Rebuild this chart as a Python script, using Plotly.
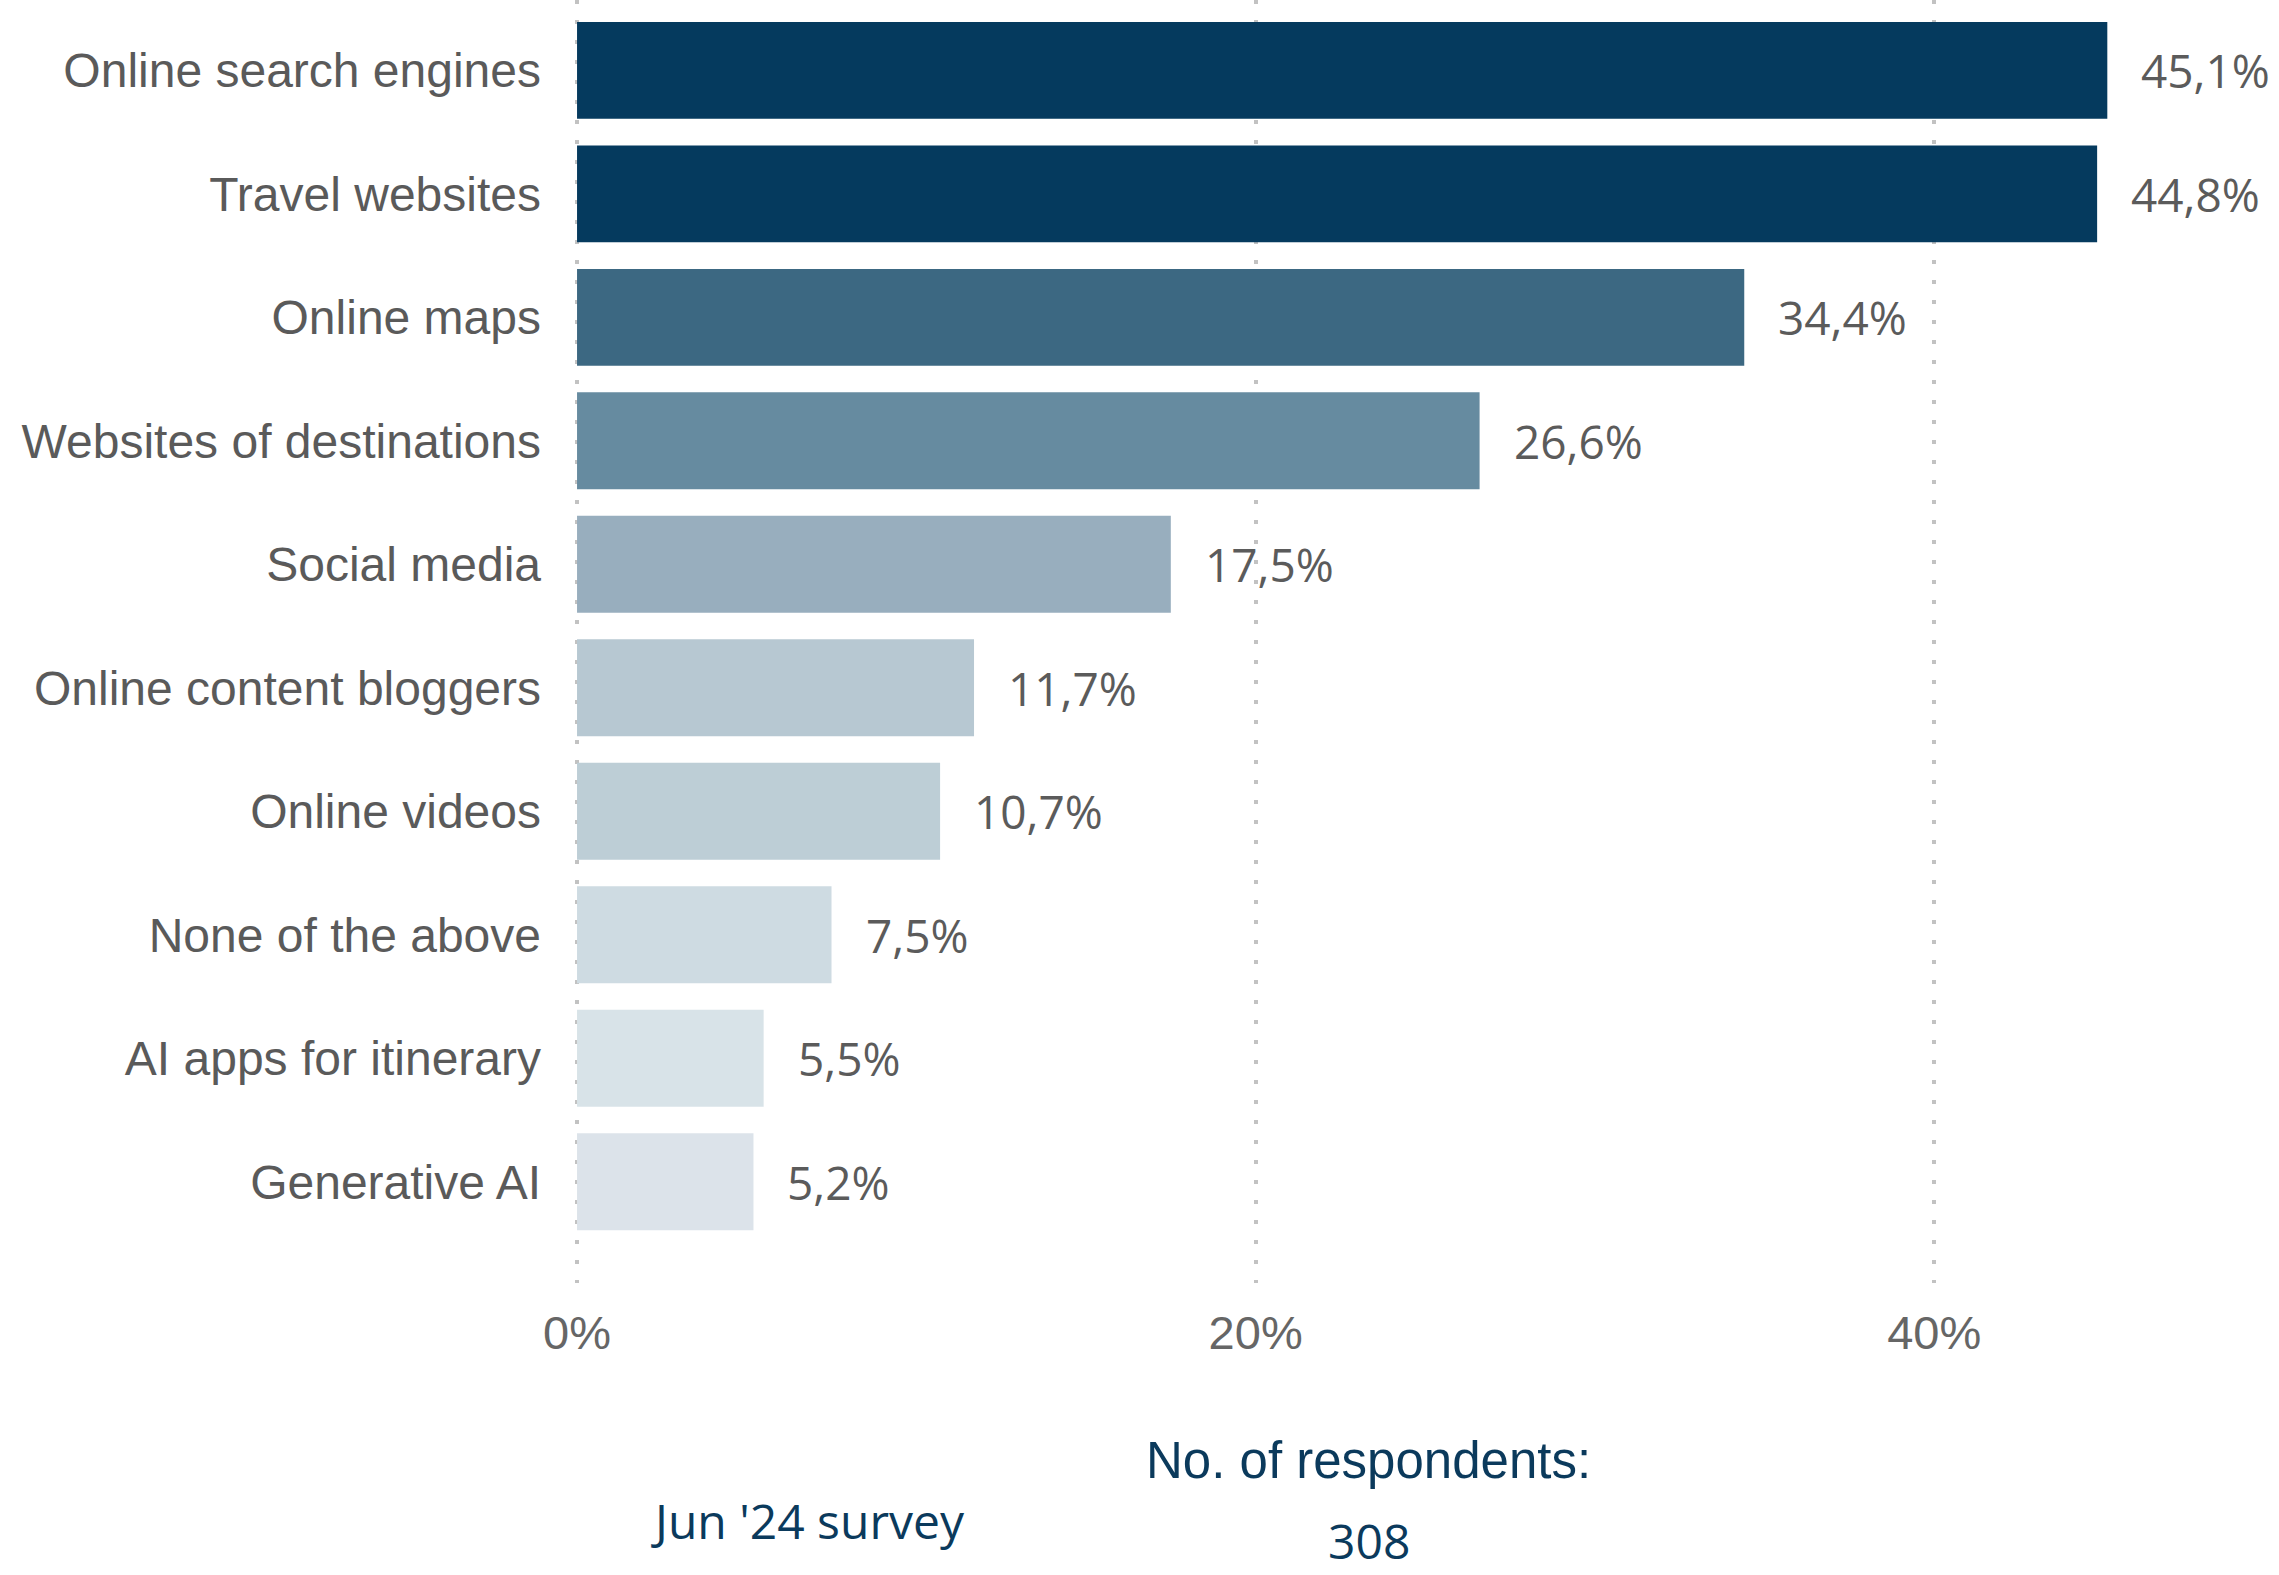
import plotly.graph_objects as go

# Survey answers, sorted from most to least cited
categories = [
    "Online search engines",
    "Travel websites",
    "Online maps",
    "Websites of destinations",
    "Social media",
    "Online content bloggers",
    "Online videos",
    "None of the above",
    "AI apps for itinerary",
    "Generative AI",
]
shares = [45.1, 44.8, 34.4, 26.6, 17.5, 11.7, 10.7, 7.5, 5.5, 5.2]
bar_colors = [
    "#053a5e", "#053a5e", "#3c6882", "#668ba0", "#98aebe",
    "#b7c8d2", "#bdced6", "#cedbe2", "#d8e3e8", "#dce3ea",
]
x_tick_values = [0, 20, 40]
x_tick_labels = ["0%", "20%", "40%"]

survey_label = "Jun '24 survey"
respondents_title = "No. of respondents:"
respondents_count = "308"

W, H = 2279, 1575
ML, MR, MT, MB = 575, 0, 0, 292
PW, PH = W - ML - MR, H - MT - MB


def px_to_paper(px, py):
    return (px - ML) / PW, (H - MB - py) / PH


fig = go.Figure()
fig.add_trace(go.Bar(
    x=shares,
    y=categories,
    orientation="h",
    marker=dict(color=bar_colors, line=dict(width=0)),
    width=0.785,
    hoverinfo="skip",
))


def fmt(v):
    return f"{v:.1f}".replace(".", ",") + "%"


annotations = []
for cat, v in zip(categories, shares):
    annotations.append(dict(
        x=v, y=cat, xref="x", yref="y",
        text=fmt(v), showarrow=False,
        xanchor="left", yanchor="middle", xshift=32,
        font=dict(family="Open Sans", size=46, color="#5b5b5b"),
    ))

ax, ay = px_to_paper(808, 1521)
annotations.append(dict(
    x=ax, y=ay, xref="paper", yref="paper", text=survey_label,
    showarrow=False, xanchor="center", yanchor="middle",
    font=dict(family="Open Sans", size=48, color="#0b3a5c"),
))
ax, ay = px_to_paper(1368, 1460)
annotations.append(dict(
    x=ax, y=ay, xref="paper", yref="paper", text=respondents_title,
    showarrow=False, xanchor="center", yanchor="middle",
    font=dict(family="Liberation Sans", size=51, color="#0b3a5c"),
))
ax, ay = px_to_paper(1369, 1540)
annotations.append(dict(
    x=ax, y=ay, xref="paper", yref="paper", text=respondents_count,
    showarrow=False, xanchor="center", yanchor="middle",
    font=dict(family="Open Sans", size=48, color="#0b3a5c"),
))

fig.update_layout(
    width=W, height=H,
    margin=dict(l=ML, r=MR, t=MT, b=MB, pad=0),
    paper_bgcolor="white", plot_bgcolor="white",
    showlegend=False,
    bargap=0.215,
    annotations=annotations,
    xaxis=dict(
        range=[-0.06, 50.16],
        tickvals=x_tick_values,
        ticktext=x_tick_labels,
        showgrid=True, gridcolor="#c2c2c2", gridwidth=4,
        griddash="4px,16px",
        zeroline=False, showline=False, ticks="",
        ticklabelstandoff=18,
        tickfont=dict(family="Liberation Sans", size=47, color="#666666"),
    ),
    yaxis=dict(
        categoryorder="array", categoryarray=categories,
        range=[9.82, -0.57],
        showgrid=False, zeroline=False, showline=False, ticks="",
        ticklabelstandoff=33,
        tickfont=dict(family="Liberation Sans", size=48, color="#5a5a5a"),
    ),
)

fig.write_html("out.html")
